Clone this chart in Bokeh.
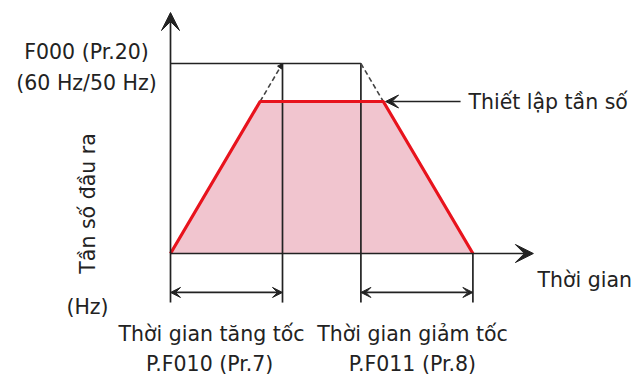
import math
from bokeh.plotting import figure
from bokeh.models import Range1d, Arrow, VeeHead, NormalHead, Label
from bokeh.embed import file_html
from bokeh.resources import INLINE

# ---- data (time in s, frequency in Hz) ----
profile_t = [0, 8, 19, 27]        # output frequency profile: time points
profile_f = [0, 48, 48, 0]        # output frequency profile: frequencies
f_max = 60                        # F000 (Pr.20) max frequency
f_set = 48                        # set frequency
t_acc = 10                        # P.F010 (Pr.7) acceleration time
t_dec_start = 17                  # start of deceleration reference
t_dec = 10                        # P.F011 (Pr.8) deceleration time
dash_acc_t = [8, 10]
dash_acc_f = [48, 60]
dash_dec_t = [17, 19]
dash_dec_f = [60, 48]

labels_top = ["F000 (Pr.20)", "(60 Hz/50 Hz)"]
ylabel = "Tần số đầu ra"
yunit = "(Hz)"
xlabel = "Thời gian"
set_label = "Thiết lập tần số"
acc_label = ["Thời gian tăng tốc", "P.F010 (Pr.7)"]
dec_label = ["Thời gian giảm tốc", "P.F011 (Pr.8)"]

W, H = 632, 375
p = figure(width=W, height=H, output_backend="svg", toolbar_location=None,
           x_range=Range1d(-15.179, 41.25), y_range=Range1d(-38.526, 79.895),
           min_border=0, min_border_left=0, min_border_right=0,
           min_border_top=0, min_border_bottom=0)
p.axis.visible = False
p.grid.visible = False
p.outline_line_color = None
p.background_fill_color = "white"
p.border_fill_color = "white"

INK = "#222222"
LW = 1.7
FONT = "DejaVu Sans"
FS = "20.5px"

# filled trapezoid
p.patch(profile_t, profile_f, fill_color="#f1c5cf", line_color=None)

# guide lines
y_low = -15.5
p.line([0, t_dec_start], [f_max, f_max], line_color=INK, line_width=LW)
p.line([t_acc, t_acc], [f_max, y_low], line_color=INK, line_width=LW)
p.line([t_dec_start, t_dec_start], [f_max, y_low], line_color=INK, line_width=LW)
p.line([t_dec_start + t_dec, t_dec_start + t_dec], [0, y_low], line_color=INK, line_width=LW)

# dashed extrapolations
p.line(dash_acc_t, dash_acc_f, line_color="#444444", line_width=1.6, line_dash="5 3")
p.line(dash_dec_t, dash_dec_f, line_color="#444444", line_width=1.6, line_dash="5 3")
p.add_layout(Arrow(end=NormalHead(size=5, fill_color=INK, line_color=INK),
                   x_start=9.6, y_start=58, x_end=dash_acc_t[1], y_end=dash_acc_f[1],
                   line_color=None, line_width=0))

# red profile line
p.line(profile_t, profile_f, line_color="#e8131d", line_width=3.2)

# axes with arrows
p.add_layout(Arrow(end=VeeHead(size=18, fill_color=INK, line_color=INK),
                   x_start=0, y_start=y_low, x_end=0, y_end=76.1,
                   line_color=INK, line_width=LW))
p.add_layout(Arrow(end=VeeHead(size=18, fill_color=INK, line_color=INK),
                   x_start=0, y_start=0, x_end=32.4, y_end=0,
                   line_color=INK, line_width=LW))

# set-frequency pointer
p.add_layout(Arrow(end=VeeHead(size=13, fill_color=INK, line_color=INK),
                   x_start=25.9, y_start=f_set, x_end=profile_t[2] + 0.2, y_end=f_set,
                   line_color=INK, line_width=LW))

# time span double arrows
y_span = -12.3
for a, b in [(0, t_acc), (t_dec_start, t_dec_start + t_dec)]:
    p.add_layout(Arrow(start=VeeHead(size=10, fill_color=INK, line_color=INK),
                       end=VeeHead(size=10, fill_color=INK, line_color=INK),
                       x_start=a, y_start=y_span, x_end=b, y_end=y_span,
                       line_color=INK, line_width=LW))

def lab(x, y, t, align="center", angle=0.0):
    p.add_layout(Label(x=x, y=y, text=t, text_font=FONT, text_font_size=FS,
                       text_color=INK, text_align=align, text_baseline="middle",
                       angle=angle))

lab(-7.5, 63.5, labels_top[0])
lab(-7.5, 54.0, labels_top[1])
lab(-7.41, 15.8, ylabel, angle=math.pi / 2)
lab(-7.41, -17.05, yunit)
lab(32.77, -8.5, xlabel, align="left")
lab(26.6, f_set, set_label, align="left")
lab(-4.64, -25.3, acc_label[0], align="left")
lab(13.1, -25.3, dec_label[0], align="left")
lab(3.5, -35.0, acc_label[1])
lab(21.6, -35.0, dec_label[1])

open("out.html", "w").write(file_html(p, INLINE))
